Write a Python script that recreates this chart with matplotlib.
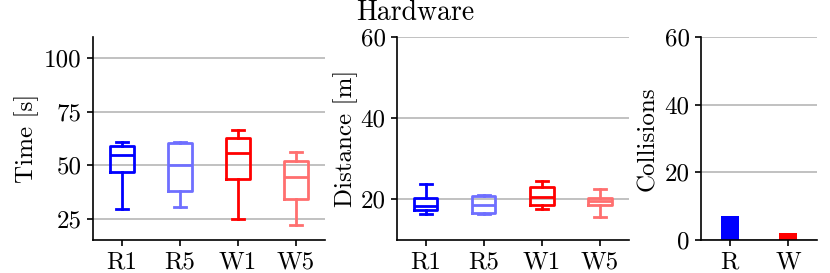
import matplotlib
matplotlib.use("Agg")
import matplotlib.pyplot as plt

plt.rcParams['font.family'] = ['cmr10', 'DejaVu Serif']
plt.rcParams['mathtext.fontset'] = 'cm'
plt.rcParams['axes.unicode_minus'] = False
plt.rcParams['font.size'] = 18

labels = ["R1", "R5", "W1", "W5"]
colors = ["#0000ff", "#6f6fff", "#ff0000", "#ff6f6f"]

# Time [s]: low whisker, Q1, median, Q3, high whisker
time_lo = [29.7, 30.4, 25.0, 22.0]
time_q1 = [46.7, 38.1, 43.4, 34.2]
time_med = [55.0, 50.3, 55.8, 44.7]
time_q3 = [59.0, 60.4, 62.9, 51.9]
time_hi = [60.8, 61.0, 66.4, 56.3]

# Distance [m]
dist_lo = [16.3, 16.4, 17.7, 15.6]
dist_q1 = [17.3, 16.6, 18.7, 18.5]
dist_med = [18.3, 18.7, 20.7, 19.5]
dist_q3 = [20.4, 20.9, 23.0, 20.3]
dist_hi = [23.9, 21.1, 24.6, 22.6]

# Collisions
coll_labels = ["R", "W"]
coll_values = [7, 2]
coll_colors = ["#0000ff", "#ff0000"]

fig = plt.figure(figsize=(8.3, 2.73), dpi=100)
ax1 = fig.add_axes([0.112, 0.1209, 0.2795, 0.7436])
ax2 = fig.add_axes([0.478, 0.1209, 0.2799, 0.7436])
ax3 = fig.add_axes([0.8442, 0.1209, 0.1405, 0.7436])

LW = 2.0


def draw_box(ax, lo, q1, med, q3, hi):
    stats = []
    for i in range(len(labels)):
        stats.append(dict(whislo=lo[i], q1=q1[i], med=med[i], q3=q3[i],
                          whishi=hi[i], fliers=[], label=labels[i]))
    bp = ax.bxp(stats, positions=range(1, len(labels) + 1), widths=0.4,
                showfliers=False, patch_artist=False)
    for i, c in enumerate(colors):
        bp['boxes'][i].set(color=c, linewidth=LW)
        bp['medians'][i].set(color=c, linewidth=LW)
        for j in (2 * i, 2 * i + 1):
            bp['whiskers'][j].set(color=c, linewidth=LW)
            bp['caps'][j].set(color=c, linewidth=LW)
    ax.set_xlim(0.5, 4.5)


def style(ax):
    for s in ("top", "right"):
        ax.spines[s].set_visible(False)
    ax.spines['left'].set_linewidth(1.2)
    ax.spines['bottom'].set_linewidth(1.2)
    ax.yaxis.grid(True, color="#b0b0b0", linewidth=1.1)
    ax.set_axisbelow(True)
    ax.tick_params(direction="out", length=4, width=1.2, pad=4, labelsize=18)


draw_box(ax1, time_lo, time_q1, time_med, time_q3, time_hi)
ax1.set_ylim(15, 110)
ax1.set_yticks([25, 50, 75, 100])
ax1.set_ylabel("Time [s]", fontsize=18)
style(ax1)

draw_box(ax2, dist_lo, dist_q1, dist_med, dist_q3, dist_hi)
ax2.set_ylim(10, 60)
ax2.set_yticks([20, 40, 60])
ax2.set_ylabel("Distance [m]", fontsize=18, labelpad=2)
style(ax2)

ax3.bar(range(len(coll_labels)), coll_values, width=0.3, color=coll_colors)
ax3.set_xticks(range(len(coll_labels)))
ax3.set_xticklabels(coll_labels)
ax3.set_xlim(-0.5, 1.5)
ax3.set_ylim(0, 60)
ax3.set_yticks([0, 20, 40, 60])
ax3.set_ylabel("Collisions", fontsize=18)
style(ax3)

fig.suptitle("Hardware", x=0.5, y=1.0, fontsize=20)

fig.savefig("out.png", dpi=100)
